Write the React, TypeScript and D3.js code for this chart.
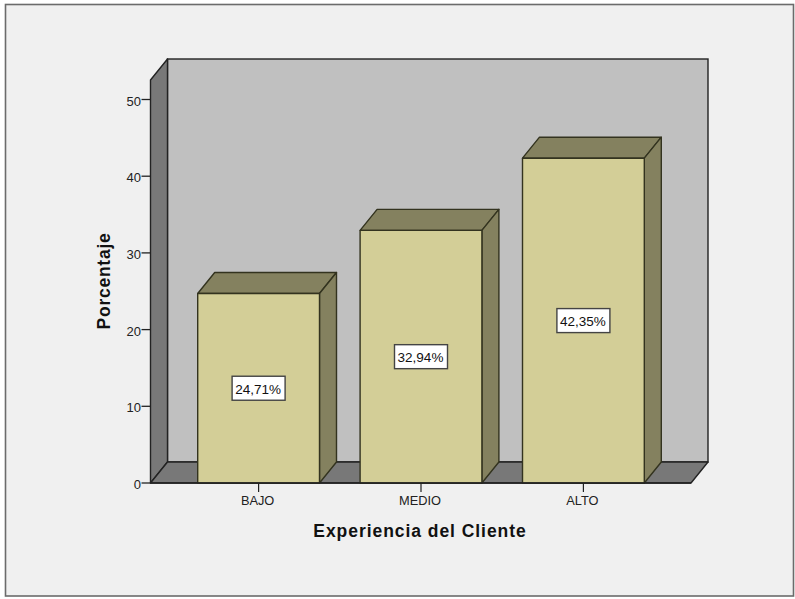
import React from "react";
import * as d3 from "d3";

const categories = ["BAJO", "MEDIO", "ALTO"];
const percentages = [24.71, 32.94, 42.35];
const percentLabels = ["24,71%", "32,94%", "42,35%"];
const yTicks = [0, 10, 20, 30, 40, 50];
const xTitle = "Experiencia del Cliente";
const yTitle = "Porcentaje";

const FONT = "'Liberation Sans', Arial, sans-serif";
const INK = "#222";
const DX = 17;
const DY = -21;

const y = d3.scaleLinear().domain([0, 50]).range([483, 99.5]);
const x = d3
  .scaleBand<string>()
  .domain(categories)
  .range([177.4, 664.6])
  .paddingInner(0.25)
  .paddingOuter(0.125);

const FRONT_LEFT = 150.5;
const FRONT_RIGHT = 691;
const FRONT_TOP = 80;
const FRONT_BOTTOM = y(0);

const poly = (pts: [number, number][]) => d3.line()(pts) + "Z";

export default function App() {
  const bw = x.bandwidth();
  return (
    <svg
      width={795}
      height={599}
      style={{ position: "absolute", left: 0, top: 0, background: "#fff" }}
      fontFamily={FONT}
    >
      {/* chart frame */}
      <rect x={5.5} y={4.5} width={788} height={591.5} fill="#f0f0f0" stroke="#6b6b6b" strokeWidth={1.6} />

      {/* back wall */}
      <rect
        x={FRONT_LEFT + DX}
        y={FRONT_TOP + DY}
        width={FRONT_RIGHT - FRONT_LEFT}
        height={FRONT_BOTTOM - FRONT_TOP}
        fill="#c0c0c0"
        stroke={INK}
        strokeWidth={1.4}
      />
      {/* left wall */}
      <path
        d={poly([
          [FRONT_LEFT, FRONT_TOP],
          [FRONT_LEFT + DX, FRONT_TOP + DY],
          [FRONT_LEFT + DX, FRONT_BOTTOM + DY],
          [FRONT_LEFT, FRONT_BOTTOM],
        ])}
        fill="#787878"
        stroke={INK}
        strokeWidth={1.4}
        strokeLinejoin="round"
      />
      {/* floor */}
      <path
        d={poly([
          [FRONT_LEFT, FRONT_BOTTOM],
          [FRONT_LEFT + DX, FRONT_BOTTOM + DY],
          [FRONT_RIGHT + DX, FRONT_BOTTOM + DY],
          [FRONT_RIGHT, FRONT_BOTTOM],
        ])}
        fill="#787878"
        stroke={INK}
        strokeWidth={1.4}
        strokeLinejoin="round"
      />

      {/* y axis */}
      {yTicks.map((t) => (
        <g key={t}>
          <line x1={FRONT_LEFT - 9} x2={FRONT_LEFT} y1={y(t)} y2={y(t)} stroke={INK} strokeWidth={1.3} />
          <text x={FRONT_LEFT - 9.5} y={y(t) + 6} textAnchor="end" fontSize={13} fill={INK}>
            {t}
          </text>
        </g>
      ))}
      <text
        transform={`translate(110,281) rotate(-90)`}
        textAnchor="middle"
        fontSize={17.5}
        fontWeight="bold"
        letterSpacing={0.75}
        fill="#111"
      >
        {yTitle}
      </text>

      {/* bars */}
      {categories.map((c, i) => {
        const x0 = x(c) as number;
        const x1 = x0 + bw;
        const top = y(percentages[i]);
        return (
          <g key={c} stroke="#33331f" strokeWidth={1.4} strokeLinejoin="round">
            <path
              d={poly([
                [x0, top],
                [x0 + DX, top + DY],
                [x1 + DX, top + DY],
                [x1, top],
              ])}
              fill="#84815f"
            />
            <path
              d={poly([
                [x1, top],
                [x1 + DX, top + DY],
                [x1 + DX, FRONT_BOTTOM + DY],
                [x1, FRONT_BOTTOM],
              ])}
              fill="#84815f"
            />
            <rect x={x0} y={top} width={bw} height={FRONT_BOTTOM - top} fill="#d3ce97" />
          </g>
        );
      })}

      {/* baseline over the bar feet */}
      <line x1={FRONT_LEFT} x2={FRONT_RIGHT} y1={FRONT_BOTTOM} y2={FRONT_BOTTOM} stroke={INK} strokeWidth={1.4} />

      {/* x axis */}
      {categories.map((c) => {
        const cx = (x(c) as number) + bw / 2;
        return (
          <g key={c}>
            <line x1={cx} x2={cx} y1={FRONT_BOTTOM} y2={FRONT_BOTTOM + 9} stroke={INK} strokeWidth={1.2} />
            <text x={cx - 1} y={FRONT_BOTTOM + 21.5} textAnchor="middle" fontSize={12.8} fill={INK}>
              {c}
            </text>
          </g>
        );
      })}
      <text x={420} y={536.5} textAnchor="middle" fontSize={17.5} fontWeight="bold" letterSpacing={0.95} fill="#111">
        {xTitle}
      </text>

      {/* value labels */}
      {categories.map((c, i) => {
        const cx = (x(c) as number) + bw / 2;
        const cy = (y(percentages[i]) + FRONT_BOTTOM) / 2;
        return (
          <g key={c + "-label"}>
            <rect x={cx - 26.5} y={cy - 12} width={53} height={24} fill="#fff" stroke="#444" strokeWidth={1.4} />
            <text x={cx - 0.5} y={cy + 5.3} textAnchor="middle" fontSize={13.5} fill="#111">
              {percentLabels[i]}
            </text>
          </g>
        );
      })}
    </svg>
  );
}
